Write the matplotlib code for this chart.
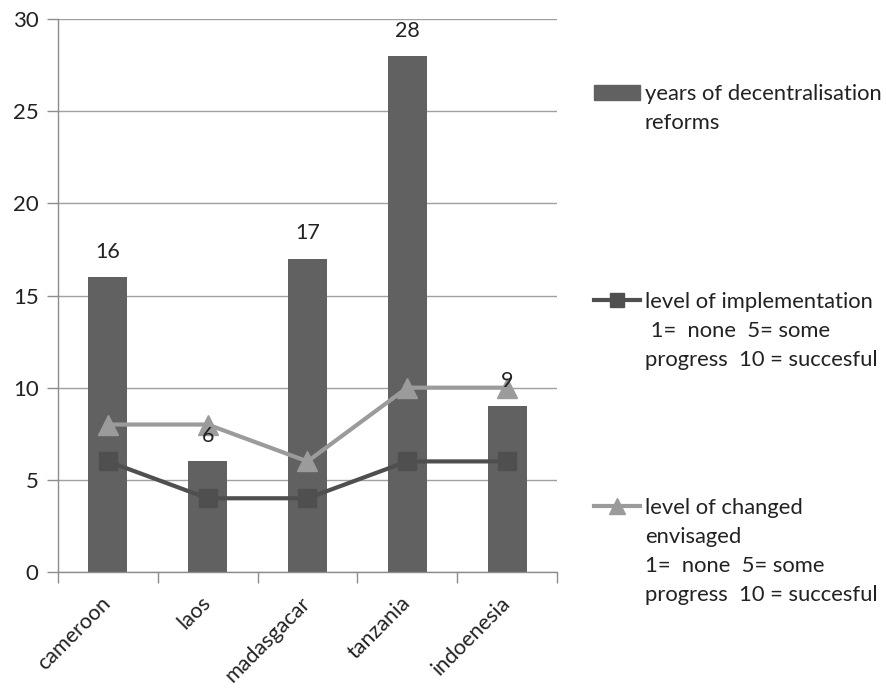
import matplotlib
matplotlib.use("Agg")
import matplotlib.pyplot as plt
import numpy as np
from matplotlib.lines import Line2D
from matplotlib.patches import Patch

# Data
countries = ["cameroon", "laos", "madasgacar", "tanzania", "indoenesia"]
years_reform = [16, 6, 17, 28, 9]
implementation = [6, 4, 4, 6, 6]
change_envisaged = [8, 8, 6, 10, 10]
y_ticks = [0, 5, 10, 15, 20, 25, 30]

legend_lines = [
    ["years of decentralisation", "reforms"],
    ["level of implementation", " 1=  none  5= some", "progress  10 = succesful"],
    ["level of changed", "envisaged", "1=  none  5= some", "progress  10 = succesful"],
]

plt.rcParams['font.family'] = ['Lato', 'DejaVu Sans']

BAR = '#616161'
DARK = '#4f4f4f'
LIGHT = '#9b9b9b'
GRID = '#a0a0a0'
AXIS = '#8c8c8c'
TEXT = '#222222'
FS_TICK = 16
FS_XT = 15.5
FS_LEG = 15.8
FS_LAB = 15.5

W, H = 887, 692
fig = plt.figure(figsize=(W / 100, H / 100), dpi=100)
ax = fig.add_axes([58 / W, 1 - 572 / H, (557 - 58) / W, (572 - 19) / H])

x = np.arange(len(countries))
bars = ax.bar(x, years_reform, width=0.39, color=BAR, zorder=2)
ax.plot(x, implementation, color=DARK, lw=3, marker='s', ms=12.5, zorder=3)
ax.plot(x, change_envisaged, color=LIGHT, lw=3, marker='^', ms=14, zorder=4)
ax.bar_label(bars, labels=[str(v) for v in years_reform], padding=11,
             fontsize=FS_LAB, color=TEXT, zorder=5)

ax.set_xlim(-0.5, len(countries) - 0.5)
ax.set_ylim(0, 30)
ax.set_yticks(y_ticks)
ax.yaxis.grid(True, color=GRID, lw=1)
ax.set_axisbelow(True)

# category boundaries carry the tick marks, centres carry the labels
ax.set_xticks(np.arange(-0.5, len(countries), 1))
ax.set_xticklabels([])
ax.set_xticks(x, minor=True)
ax.set_xticklabels(countries, minor=True, rotation=45, ha='right',
                   va='center', rotation_mode='anchor')
ax.tick_params(axis='x', which='minor', length=0, pad=20, labelsize=FS_XT,
               labelcolor=TEXT)
ax.tick_params(axis='x', which='major', length=8, color=AXIS, width=1)
ax.tick_params(axis='y', length=8, color=AXIS, width=1, pad=6,
               labelsize=FS_TICK, labelcolor=TEXT)

for side in ('top', 'right'):
    ax.spines[side].set_visible(False)
for side in ('left', 'bottom'):
    ax.spines[side].set_color(AXIS)
    ax.spines[side].set_linewidth(1)

# legend, one entry per block, continuation lines written below each entry
handles = [
    Patch(color=BAR),
    Line2D([], [], color=DARK, lw=3, marker='s', ms=10),
    Line2D([], [], color=LIGHT, lw=3, marker='^', ms=11),
]
entry_y = [94, 302, 508]
line_step = 29
for h, lines, yy in zip(handles, legend_lines, entry_y):
    fig.legend(handles=[h], labels=[lines[0]], loc='center left',
               bbox_to_anchor=(594 / W, 1 - yy / H), frameon=False,
               fontsize=FS_LEG, labelcolor=TEXT,
               handlelength=46 / (FS_LEG * 100 / 72),
               handletextpad=0.22, borderpad=0, borderaxespad=0)
    for i, extra in enumerate(lines[1:], start=1):
        fig.text(645 / W, 1 - (yy + i * line_step) / H, extra, fontsize=FS_LEG,
                 color=TEXT, va='center', ha='left')

fig.savefig("out.png", dpi=100)
